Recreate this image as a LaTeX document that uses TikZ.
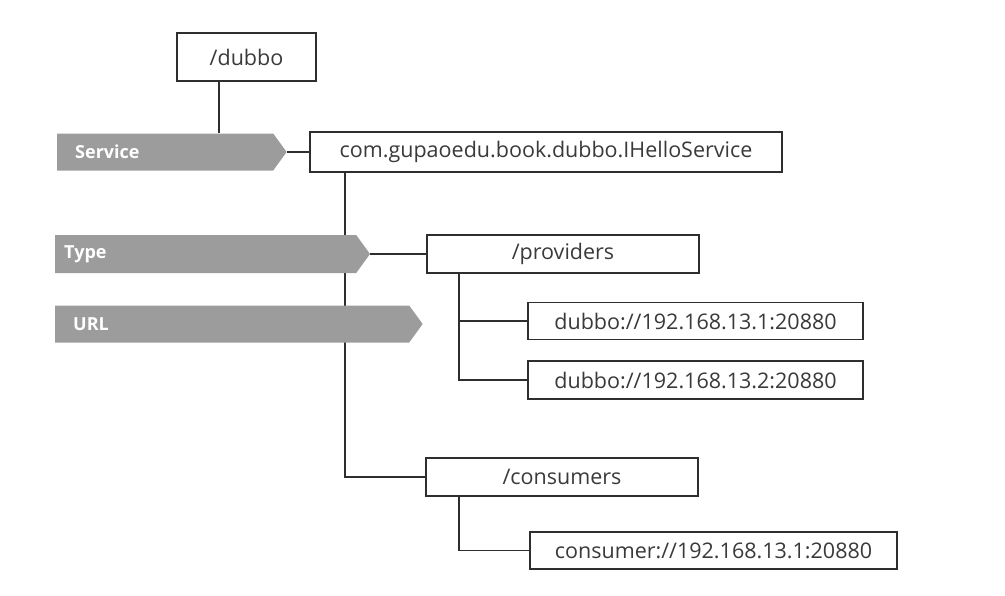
\documentclass[tikz,border=0pt]{standalone}
\usepackage{fontspec}
\setmainfont{Open Sans}
\usetikzlibrary{shapes.symbols}

\definecolor{boxtext}{HTML}{3A3A3A}
\definecolor{boxline}{HTML}{2E2E2E}
\definecolor{bannergray}{HTML}{9C9C9C}

\tikzset{
    zknode/.style={draw=boxline, line width=1.8pt, fill=white, text=boxtext,
        inner sep=0pt, font=\fontsize{21.5}{25}\selectfont},
    tag/.style={signal, signal to=east, signal pointer angle=108, fill=bannergray,
        text=white, inner xsep=18pt, inner ysep=0pt, align=left,
        font=\fontsize{18}{21}\selectfont\bfseries},
    link/.style={draw=boxline, line width=1.8pt}
}

\begin{document}
\begin{tikzpicture}[x=1pt, y=-1pt]
    \useasboundingbox[fill=white] (0,0) rectangle (1005,595);

    % Knoten des Baums
    \node[zknode, minimum width=139pt, minimum height=48pt] (dubbo) at (246.5,57) {/dubbo};
    \node[zknode, minimum width=472pt, minimum height=40pt] (iface) at (546,152) {com.gupaoedu.book.dubbo.IHelloService};
    \node[zknode, minimum width=272pt, minimum height=38pt] (providers) at (563,254) {/providers};
    \node[zknode, minimum width=335pt, minimum height=37pt] (prov1) at (695.5,321) {dubbo://192.168.13.1:20880};
    \node[zknode, minimum width=335pt, minimum height=38pt] (prov2) at (695.5,380) {dubbo://192.168.13.2:20880};
    \node[zknode, minimum width=272pt, minimum height=38pt] (consumers) at (562,477) {/consumers};
    \node[zknode, minimum width=367pt, minimum height=37pt] (cons1) at (713.5,550.5) {consumer://192.168.13.1:20880};

    % Verbindungen (Stamm zuerst, Banner liegen darueber)
    \draw[link] ([xshift=36pt]iface.south west) |- (consumers.west);
    \draw[link] ([xshift=33pt]providers.south west) |- (prov1.west);
    \draw[link] ([xshift=33pt]providers.south west) |- (prov2.west);
    \draw[link] ([xshift=34pt]consumers.south west) |- (cons1.west);

    % Banner links
    \node[tag, minimum height=37pt, text width=180pt, anchor=west] (service) at (57,152) {Service};
    \node[tag, minimum height=38pt, text width=283pt, inner xsep=9pt, anchor=west] (type) at (55,254) {Type};
    \node[tag, minimum height=37pt, text width=318pt, anchor=west] (url) at (55,324) {URL};

    \draw[link] ([xshift=43pt]dubbo.south west) -- ([xshift=43pt]dubbo.south west |- service.north);
    \draw[link] (service.east) -- (iface.west);
    \draw[link] (type.east) -- (providers.west);

\end{tikzpicture}
\end{document}
